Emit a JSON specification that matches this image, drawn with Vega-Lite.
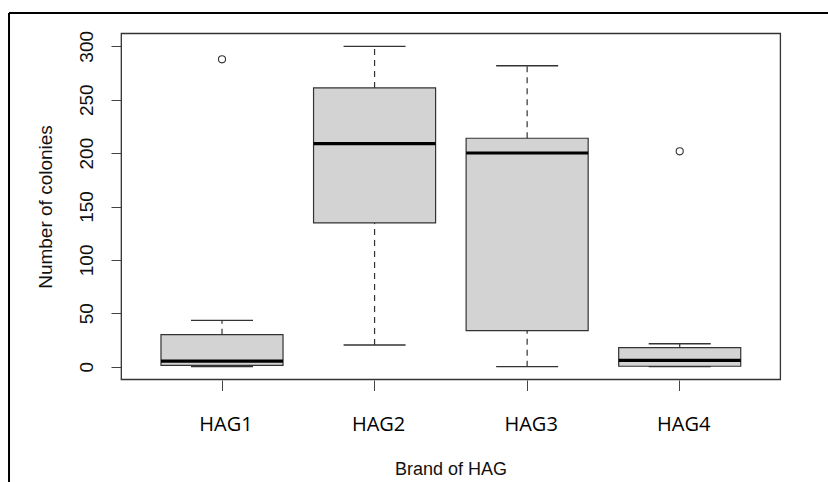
{
  "$schema": "https://vega.github.io/schema/vega-lite/v6.json",
  "width": 820,
  "height": 470,
  "padding": {"left": 8, "top": 12, "right": 0, "bottom": 0},
  "autosize": {"type": "pad"},
  "background": "white",
  "config": {"view": {"stroke": null}},
  "datasets": {
    "stats": [
      {"brand": "HAG1", "lower": 0, "q1": 1.3, "median": 5.3, "q3": 30, "upper": 43.4},
      {"brand": "HAG2", "lower": 20.3, "q1": 134.6, "median": 208.8, "q3": 261, "upper": 300},
      {"brand": "HAG3", "lower": 0, "q1": 33.7, "median": 200.1, "q3": 213.9, "upper": 281.8},
      {"brand": "HAG4", "lower": 0, "q1": 0.4, "median": 6, "q3": 17.8, "upper": 21.5}
    ],
    "outliers": [
      {"brand": "HAG1", "value": 287.8},
      {"brand": "HAG4", "value": 201.7}
    ],
    "one": [{}]
  },
  "layer": [
    {
      "data": {"name": "stats"},
      "mark": {"type": "bar", "width": {"band": 0.8}, "fill": "#d3d3d3", "stroke": "#333333", "strokeWidth": 1.2},
      "encoding": {
        "x": {
          "field": "brand", "type": "nominal",
          "scale": {"domain": ["HAG1", "HAG2", "HAG3", "HAG4"], "paddingInner": 0, "paddingOuter": 0.6873, "align": 0.6519, "round": false},
          "axis": {
            "title": "Brand of HAG", "orient": "bottom", "offset": -103, "domain": false, "grid": false,
            "ticks": true, "tickSize": 10.5, "tickColor": "#444444", "tickWidth": 1,
            "labelFont": "Open Sans", "labelFontSize": 20, "labelColor": "#000000", "labelAngle": 0,
            "labelBaseline": "alphabetic", "labelPadding": 39.5, "labelOffset": 4,
            "titleFont": "Liberation Sans", "titleFontSize": 18, "titleFontWeight": "normal", "titleColor": "#111111",
            "titleX": 441.6, "titleY": 94.3, "titleAlign": "center", "titleBaseline": "alphabetic"
          }
        },
        "y": {
          "field": "q1", "type": "quantitative",
          "scale": {"domain": [-108.9, 331.2], "nice": false, "zero": false},
          "axis": {
            "title": "Number of colonies", "orient": "left", "offset": -112, "domain": false, "grid": false,
            "values": [0, 50, 100, 150, 200, 250, 300],
            "tickSize": 10, "tickColor": "#444444", "tickWidth": 1,
            "labelAngle": -90, "labelAlign": "center", "labelBaseline": "alphabetic", "labelPadding": 18.3,
            "labelFont": "Liberation Sans", "labelFontSize": 19, "labelColor": "#111111",
            "titleFont": "Liberation Sans", "titleFontSize": 19, "titleFontWeight": "normal", "titleColor": "#111111",
            "titleAngle": -90, "titleX": -70, "titleY": 193.5, "titleAlign": "center", "titleBaseline": "alphabetic"
          }
        },
        "y2": {"field": "q3"}
      }
    },
    {
      "data": {"name": "stats"},
      "mark": {"type": "rule", "color": "#333333", "strokeWidth": 1.2, "strokeDash": [6, 5]},
      "encoding": {
        "x": {"field": "brand", "type": "nominal"},
        "y": {"field": "q3", "type": "quantitative"},
        "y2": {"field": "upper"}
      }
    },
    {
      "data": {"name": "stats"},
      "mark": {"type": "rule", "color": "#333333", "strokeWidth": 1.2, "strokeDash": [6, 5]},
      "encoding": {
        "x": {"field": "brand", "type": "nominal"},
        "y": {"field": "lower", "type": "quantitative"},
        "y2": {"field": "q1"}
      }
    },
    {
      "data": {"name": "stats"},
      "mark": {"type": "tick", "color": "#333333", "opacity": 1, "size": 62, "thickness": 1.3, "orient": "horizontal"},
      "encoding": {
        "x": {"field": "brand", "type": "nominal"},
        "y": {"field": "upper", "type": "quantitative"}
      }
    },
    {
      "data": {"name": "stats"},
      "mark": {"type": "tick", "color": "#333333", "opacity": 1, "size": 62, "thickness": 1.3, "orient": "horizontal"},
      "encoding": {
        "x": {"field": "brand", "type": "nominal"},
        "y": {"field": "lower", "type": "quantitative"}
      }
    },
    {
      "data": {"name": "stats"},
      "mark": {"type": "tick", "color": "#000000", "opacity": 1, "size": 122, "thickness": 3.2, "orient": "horizontal"},
      "encoding": {
        "x": {"field": "brand", "type": "nominal"},
        "y": {"field": "median", "type": "quantitative"}
      }
    },
    {
      "data": {"name": "outliers"},
      "mark": {"type": "point", "shape": "circle", "filled": false, "opacity": 1, "size": 50, "stroke": "#333333", "strokeWidth": 1.1},
      "encoding": {
        "x": {"field": "brand", "type": "nominal"},
        "y": {"field": "value", "type": "quantitative"}
      }
    },
    {
      "data": {"name": "one"},
      "mark": {"type": "rect", "fill": null, "fillOpacity": 0, "stroke": "#333333", "strokeWidth": 1.3},
      "encoding": {
        "x": {"datum": "HAG1", "type": "nominal", "bandPosition": -0.16},
        "x2": {"datum": "HAG4", "bandPosition": 1.16},
        "y": {"datum": -12, "type": "quantitative"},
        "y2": {"datum": 312}
      }
    },
    {
      "data": {"name": "one"},
      "mark": {"type": "rule", "color": "#000000", "strokeWidth": 2},
      "encoding": {
        "y": {"datum": 331.2, "type": "quantitative"}
      }
    },
    {
      "data": {"name": "one"},
      "mark": {"type": "rule", "color": "#000000", "strokeWidth": 2},
      "encoding": {
        "x": {"datum": "HAG1", "type": "nominal", "bandPosition": -0.896}
      }
    }
  ]
}
